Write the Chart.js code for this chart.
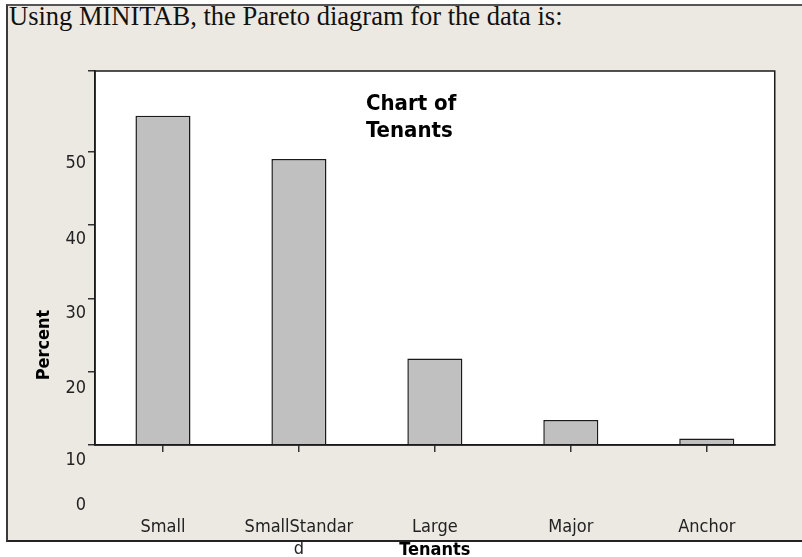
<!DOCTYPE html>
<html>
<head>
<meta charset="utf-8">
<script src="https://cdn.jsdelivr.net/npm/chart.js@4/dist/chart.umd.min.js"></script>
<style>
  body { margin: 0; background: #ffffff; }
  #wrap { position: relative; width: 802px; height: 557px; overflow: hidden; }
  #panel { position: absolute; left: 6px; top: 4px; width: 800px; height: 534px;
           background: #ece9e2; border-left: 2px solid #3a3a3a; border-top: 2px solid #555;
           border-bottom: 2px solid #222; }
  #head { position: absolute; left: 9px; top: 1px; font-family: "Liberation Serif", serif;
          font-size: 26.5px; color: #111; white-space: nowrap; }
  #c { position: absolute; left: 0; top: 0; }
</style>
</head>
<body>
<div id="wrap">
  <div id="panel"></div>
  <div id="head">Using MINITAB, the Pareto diagram for the data is:</div>
  <canvas id="c" width="802" height="557"></canvas>
</div>
<script>
const categories = ['Small', 'SmallStandard', 'Large', 'Major', 'Anchor'];
const percents = [44.9, 39.0, 11.8, 3.4, 0.9];
const yTickValues = [0, 10, 20, 30, 40, 50];
const yTickLabels = ['0', '10', '20', '30', '40', '50'];

const condensed = '"DejaVu Sans Condensed", "DejaVu Sans", sans-serif';

// the tick labels in the picture sit lower than their tick marks
const yLabelShift = [60, 89, 90, 88, 88, 85];

const minitabLook = {
  id: 'minitabLook',
  beforeDraw(chart) {
    const a = chart.chartArea, ctx = chart.ctx;
    ctx.save();
    ctx.fillStyle = '#ffffff';
    ctx.fillRect(a.left, a.top, a.right - a.left, a.bottom - a.top);
    ctx.restore();
  },
  afterDraw(chart) {
    const a = chart.chartArea, ctx = chart.ctx;
    const y = chart.scales.y;
    ctx.save();
    ctx.strokeStyle = '#1a1a1a';
    ctx.lineWidth = 1.5;
    ctx.strokeRect(a.left, a.top, a.right - a.left, a.bottom - a.top);

    ctx.fillStyle = '#222';
    ctx.font = '18px ' + condensed;
    ctx.textAlign = 'right';
    ctx.textBaseline = 'middle';
    yTickValues.forEach((v, i) => {
      ctx.fillText(yTickLabels[i], a.left - 9, y.getPixelForValue(v) + yLabelShift[i]);
    });

    ctx.fillStyle = '#000';
    ctx.font = 'bold 22px ' + condensed;
    ctx.textAlign = 'left';
    ctx.textBaseline = 'alphabetic';
    ctx.fillText('Chart of', 366, 110);
    ctx.fillText('Tenants', 366, 137);

    ctx.font = 'bold 18px ' + condensed;
    ctx.textAlign = 'center';
    ctx.textBaseline = 'middle';
    ctx.fillText('Tenants', (a.left + a.right) / 2, 550);

    ctx.translate(44, 345);
    ctx.rotate(-Math.PI / 2);
    ctx.fillText('Percent', 0, 0);
    ctx.restore();
  }
};

const ctx = document.getElementById('c').getContext('2d');
const chart = new Chart(ctx, {
  type: 'bar',
  data: {
    labels: categories,
    datasets: [{
      label: 'Percent',
      data: percents,
      backgroundColor: '#c0c0c0',
      borderColor: '#1a1a1a',
      borderWidth: 1.5,
      barPercentage: 0.405,
      categoryPercentage: 1
    }]
  },
  options: {
    responsive: false,
    animation: false,
    layout: { padding: { left: 0, top: 71, right: 27, bottom: 0 } },
    plugins: {
      legend: { display: false },
      title: { display: false },
      tooltip: { enabled: false }
    },
    scales: {
      x: {
        afterFit: s => { s.height = 112; },
        grid: { offset: false, drawOnChartArea: false, tickLength: 7, color: '#333', lineWidth: 1.5 },
        border: { color: '#1a1a1a', width: 1.5 },
        ticks: {
          color: '#222',
          font: { family: condensed, size: 18, lineHeight: 1.25 },
          padding: 64,
          maxRotation: 0,
          autoSkip: false,
          callback: function (value) {
            const t = this.getLabelForValue(value);
            return t.length > 12 ? [t.slice(0, 12), t.slice(12)] : t;
          }
        }
      },
      y: {
        min: 0,
        max: 51,
        afterFit: s => { s.width = 95; },
        grid: { drawOnChartArea: false, tickLength: 7, color: '#333', lineWidth: 1.5 },
        border: { color: '#1a1a1a', width: 1.5 },
        ticks: { stepSize: 10, callback: () => '' }
      }
    }
  },
  plugins: [minitabLook]
});
</script>
</body>
</html>
